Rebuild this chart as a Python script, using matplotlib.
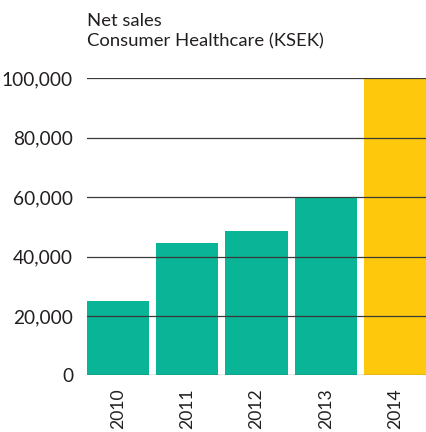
import matplotlib.pyplot as plt
import numpy as np

# data
years = ['2010', '2011', '2012', '2013', '2014']
net_sales = [25000, 44500, 48500, 60000, 100000]
bar_colors = ['#0ab496', '#0ab496', '#0ab496', '#0ab496', '#fec90c']
yticks = [0, 20000, 40000, 60000, 80000, 100000]

plt.rcParams['font.family'] = ['Lato', 'DejaVu Sans']

fig = plt.figure(figsize=(4.26, 4.32), dpi=100)
ax = fig.add_axes([0.204, 0.131, 0.796, 0.688])

x = np.arange(len(years))
ax.bar(x, net_sales, width=0.9, color=bar_colors, zorder=1)

# horizontal grid lines drawn on top of the bars
for t in yticks:
    ax.axhline(t, color='#3a3a3a', lw=0.9, zorder=3)

ax.set_xlim(-0.45, len(years) - 0.55)
ax.set_ylim(0, 100000)
ax.set_yticks(yticks)
ax.set_yticklabels([f'{t:,}' for t in yticks], fontsize=13.8, color='#231f20')
ax.set_xticks(x)
ax.set_xticklabels(years, rotation=90, fontsize=12.6, color='#231f20')
ax.tick_params(axis='y', length=0, pad=10)
ax.tick_params(axis='x', length=0, pad=9)
for s in ax.spines.values():
    s.set_visible(False)

fig.text(0.204, 0.97, 'Net sales\nConsumer Healthcare (KSEK)', ha='left', va='top',
         fontsize=13.3, color='#231f20', linespacing=1.3)

fig.savefig('out.png', dpi=100)
